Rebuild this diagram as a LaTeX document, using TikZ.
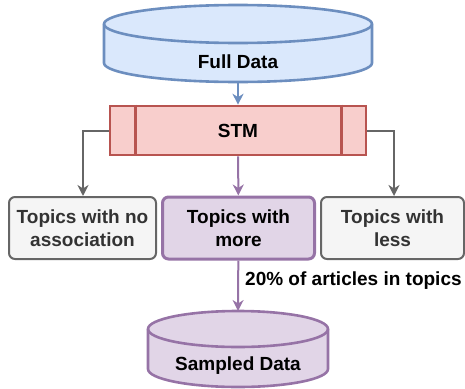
\documentclass[tikz,border=0pt]{standalone}
\usepackage{fontspec}
\setmainfont{Liberation Sans}
\usetikzlibrary{arrows.meta}
\definecolor{dbfill}{HTML}{DAE8FC}
\definecolor{dbline}{HTML}{6C8EBF}
\definecolor{stmfill}{HTML}{F8CECC}
\definecolor{stmline}{HTML}{B85450}
\definecolor{grayfill}{HTML}{F5F5F5}
\definecolor{grayline}{HTML}{666666}
\definecolor{graytext}{HTML}{333333}
\definecolor{purfill}{HTML}{E1D5E7}
\definecolor{purline}{HTML}{9673A6}
\begin{document}
\begin{tikzpicture}[x=1pt,y=1pt,
		font=\fontsize{19}{22.5}\selectfont\bfseries,
		topicbox/.style={draw,rounded corners=6pt,minimum height=62pt,align=center,inner sep=2pt},
		flow/.style={-{Stealth[length=11pt,width=11pt,inset=3.5pt]},line width=2pt}]
	\useasboundingbox (0,0) rectangle (465,-388);
	% full data
	\filldraw[draw=dbline,fill=dbfill,line width=2.6pt]
		(104,-24) -- (104,-63) arc[start angle=180,end angle=360,x radius=134,y radius=19]
		-- (372,-24) arc[start angle=0,end angle=180,x radius=134,y radius=19] -- cycle;
	\draw[dbline,line width=2.6pt] (104,-24) arc[start angle=180,end angle=360,x radius=134,y radius=19];
	\node (full) at (238,-62) {Full Data};
	\coordinate (fullbot) at (238,-82);
	% model
	\node[draw=stmline,fill=stmfill,line width=2.6pt,minimum width=256pt,minimum height=49pt]
		(stm) at (238,-130.5) {STM};
	\draw[stmline,line width=2.6pt] ([xshift=27pt]stm.north west) -- ([xshift=27pt]stm.south west)
		([xshift=-26pt]stm.north east) -- ([xshift=-26pt]stm.south east);
	% topics
	\node[topicbox,draw=grayline,fill=grayfill,text=graytext,line width=2pt,minimum width=147pt]
		(noassoc) at (82.5,-228) {Topics with no\\association};
	\node[topicbox,draw=purline,fill=purfill,line width=3pt,minimum width=152pt]
		(more) at (238.5,-228) {Topics with\\more};
	\node[topicbox,draw=grayline,fill=grayfill,text=graytext,line width=2pt,minimum width=143pt]
		(less) at (392.5,-228) {Topics with\\less};
	% sampled data
	\filldraw[draw=purline,fill=purfill,line width=2.6pt]
		(148,-329) -- (148,-369) arc[start angle=180,end angle=360,x radius=90,y radius=18]
		-- (328,-329) arc[start angle=0,end angle=180,x radius=90,y radius=18] -- cycle;
	\draw[purline,line width=2.6pt] (148,-329) arc[start angle=180,end angle=360,x radius=90,y radius=18];
	\node (sampled) at (238,-366) {Sampled Data};
	\coordinate (sampledtop) at (238,-311);
	% connectors
	\draw[flow,dbline] (fullbot) -- (stm);
	\draw[flow,grayline] (stm.west) -| (noassoc.north -| 83,0);
	\draw[flow,grayline] (stm.east) -| (less.north -| 394,0);
	\draw[flow,purline] (stm) -- (more);
	\draw[flow,purline] (more) -- (sampledtop)
		node[pos=0.4,right=4pt,inner sep=2pt,text=black] (rate) {20\% of articles in topics};
\end{tikzpicture}
\end{document}
